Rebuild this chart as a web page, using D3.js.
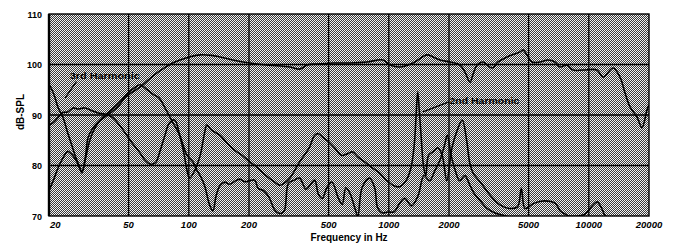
<!DOCTYPE html>
<html lang="en">
<head>
  <meta charset="UTF-8" />
  <title>Frequency response with harmonics</title>
  <script src="https://d3js.org/d3.v7.min.js"></script>
  <style>
    body { margin: 0; background: #fff; font-family: "Liberation Sans", Arial, sans-serif; }
    .curve { fill: none; stroke: #000; stroke-width: 1.6px; stroke-linejoin: round; }
    .grid line { stroke: #000; stroke-width: 1.3px; }
    .tick-y { font-size: 9px; font-weight: bold; }
    .tick-x { font-size: 9.5px; font-weight: bold; font-style: italic; }
    .title { font-size: 10px; font-weight: bold; }
    .note { font-size: 9px; font-weight: bold; }
  </style>
</head>
<body>
<svg id="chart" width="673" height="243"></svg>
<script>
// values: [frequency in Hz, dB-SPL]
const fundamental = [
  [20,75],[21,77],[22.2,79.5],[23.5,81.5],[24.8,82.8],[26,82.2],[27.5,80.8],[29.2,78.7],
  [30.5,82],[31.3,85.4],[33,87.3],[35.2,88.6],[38,89.6],[41.3,90.6],[45,92],[48,93.5],
  [52,94.5],[57,95.5],[63,97],[69,98.3],[76,99.4],[83,100.3],[92,101],[101,101.5],
  [114,101.9],[130,101.8],[143,101.5],[166,100.9],[202,100.3],[246,99.9],[321,99.5],
  [360,99.1],[390,99.9],[438,100.1],[526,100.3],[640,100.3],[778,100.5],[935,100.9],
  [1014,99.9],[1138,99.5],[1321,100.3],[1552,101.9],[1663,101.5],[1803,100.9],[2024,100.5],
  [2270,99.9],[2404,98.5],[2547,96.5],[2636,98],[2761,99.9],[2958,100.5],[3281,99.3],
  [3516,100.5],[3900,101.5],[4530,102.5],[4688,102.9],[4910,101.9],[5200,100.5],[5700,100.5],
  [6250,100.9],[6776,100.5],[7180,99.5],[7780,99.9],[8340,98.9],[9360,98.9],[10990,98.9],
  [11780,97.5],[13220,99.3],[14320,97.5],[15170,94.4],[16070,91.6],[17420,89.6],[18450,87.5],
  [19540,91],[20000,92]
];

const secondHarmonic = [
  [20,88],[21,88.5],[22.2,89.5],[23.5,90.5],[24.8,90.6],[26.4,91.4],[28,91.2],[30.2,91.4],
  [33,90.8],[35.2,90.4],[38,90.2],[41.3,89.6],[45,88],[48,86.5],[52,84.5],[57,82.5],
  [60,81.2],[64,80.3],[68,80.5],[72,83],[76,86],[80,88.4],[85,89],[90,86],[95,82],
  [98,79],[101,77.5],[107,79],[114,82],[120,86.5],[123,88],[130,87],[143,86],[155,84.5],
  [170,83],[185,82],[202,80.7],[214,80],[240,78.2],[269,76.7],[285,76.1],[300,76.5],
  [320,77.5],[358,80.7],[400,83.5],[426,86],[445,86.3],[470,85.5],[500,84.7],[536,83.5],
  [580,82],[620,82.3],[660,82.7],[700,81.7],[757,80.7],[830,79.5],[900,78.5],[960,77.3],
  [1060,76],[1133,75.8],[1220,77],[1290,79.5],[1340,84],[1370,90],[1395,94.6],[1420,91],
  [1450,86],[1490,80],[1530,78],[1580,82],[1660,82.7],[1760,83.5],[1850,82],[1950,77],
  [2070,83.5],[2200,87],[2330,89],[2450,85],[2540,80.5],[2640,78.5],[2760,77.5],[2960,76],
  [3200,74.2],[3600,72.2],[4000,71.5],[4400,71.8],[4600,75.5],[4800,71.5],[5300,72.5],
  [6000,73],[6800,72.5],[7200,71],[7600,70.4],[8000,70],[9500,70.3],[10400,72],
  [11000,72.8],[11600,71.5],[12000,70.2],[12500,69.5]
];

const thirdHarmonic = [
  [20,96],[20.7,95],[21.4,93.5],[22.2,91.5],[23.5,89.5],[24.8,86.5],[26,84],[27,82],
  [28.6,79.5],[29.2,78.5],[30.5,81.5],[32,85],[34,87.5],[37,89.5],[41,91],[45,92.5],
  [50,94.5],[54,95.5],[57,96],[62,95],[67,94],[71,93.4],[77,91],[83,88.6],[90,86],
  [98,82],[105,80.7],[110,79],[114,78],[120,76],[127,72.2],[132,71],[137,74],[143,76],
  [151,76.7],[160,76.3],[172,77],[180,77.3],[190,76.8],[202,77],[214,77.1],[222,75.5],
  [237,75],[252,73.7],[269,71.2],[285,70.5],[300,71],[315,76.5],[337,77.1],[358,77.5],
  [385,75.3],[402,76],[426,77.1],[445,74.3],[465,73.5],[490,75.6],[520,76.7],[560,73.5],
  [585,72.3],[610,75.6],[640,74.5],[675,71.7],[700,70],[735,75.6],[800,77.5],[850,75.6],
  [880,71.6],[930,70.6],[990,70.8],[1060,70.8],[1133,72.5],[1200,73.5],[1300,72],
  [1400,74],[1500,78],[1600,77],[1700,79],[1800,81],[1900,84],[1960,86],[2050,82],
  [2150,79],[2260,77],[2400,78],[2550,76],[2700,74.2],[2900,72.8],[3100,71.5],[3400,70.6],
  [3700,70.2],[4200,69.5]
];

const xTicks = [20, 50, 100, 200, 500, 1000, 2000, 5000, 10000, 20000];
const yTicks = [70, 80, 90, 100, 110];
const notes = [
  { text: "3rd Harmonic", f: 25.4, db: 97.1, from: [27.4, 96.6], to: [24.1, 93.4] },
  { text: "2nd Harmonic", f: 2010, db: 92.2, from: [2000, 92.6], to: [1480, 90.6] }
];

const svg = d3.select("#chart");
const margin = { top: 14, right: 24, bottom: 27, left: 49 };
const width = 673 - margin.left - margin.right,
      height = 243 - margin.top - margin.bottom;

const x = d3.scaleLog().domain([20, 20000]).range([0, width]);
const y = d3.scaleLinear().domain([70, 110]).range([height, 0]);

// halftone background of the scanned plot
const defs = svg.append("defs");
const pat = defs.append("pattern")
  .attr("id", "dots").attr("patternUnits", "userSpaceOnUse")
  .attr("width", 2).attr("height", 2);
pat.append("rect").attr("width", 2).attr("height", 2).attr("fill", "#f2f2f2");
pat.append("rect").attr("x", 0).attr("y", 0).attr("width", 1).attr("height", 1).attr("fill", "#3a3a3a");
pat.append("rect").attr("x", 1).attr("y", 1).attr("width", 1).attr("height", 1).attr("fill", "#3a3a3a");

defs.append("clipPath").attr("id", "plotClip")
  .append("rect").attr("width", width).attr("height", height);

const g = svg.append("g").attr("transform", `translate(${margin.left},${margin.top})`);

g.append("rect").attr("width", width).attr("height", height).attr("fill", "url(#dots)");

// grid
const grid = g.append("g").attr("class", "grid");
grid.selectAll(".vx").data(xTicks.slice(1, -1)).enter().append("line")
  .attr("x1", d => x(d)).attr("x2", d => x(d)).attr("y1", 0).attr("y2", height);
grid.selectAll(".hy").data(yTicks.slice(1, -1)).enter().append("line")
  .attr("x1", 0).attr("x2", width).attr("y1", d => y(d)).attr("y2", d => y(d));

// curves
const line = d3.line()
  .x(d => x(d[0]))
  .y(d => y(d[1]))
  .curve(d3.curveCatmullRom.alpha(0.5));

const curves = g.append("g").attr("clip-path", "url(#plotClip)");
[fundamental, secondHarmonic, thirdHarmonic].forEach(s => {
  curves.append("path").datum(s).attr("class", "curve").attr("d", line);
});

// frame
g.append("rect").attr("width", width).attr("height", height)
  .attr("fill", "none").attr("stroke", "#000").attr("stroke-width", 1.4);
g.append("line").attr("x1", 0).attr("x2", 0).attr("y1", 0).attr("y2", height)
  .attr("stroke", "#000").attr("stroke-width", 2.4);

// annotations
notes.forEach(n => {
  g.append("line")
    .attr("x1", x(n.from[0])).attr("y1", y(n.from[1]))
    .attr("x2", x(n.to[0])).attr("y2", y(n.to[1]))
    .attr("stroke", "#000").attr("stroke-width", 1.3);
  g.append("text").attr("class", "note")
    .attr("x", x(n.f)).attr("y", y(n.db))
    .attr("textLength", 70).attr("lengthAdjust", "spacingAndGlyphs")
    .text(n.text);
});

// y tick labels
g.selectAll(".tick-y").data(yTicks).enter().append("text")
  .attr("class", "tick-y")
  .attr("x", -7).attr("y", d => y(d) + 3.5)
  .attr("text-anchor", "end")
  .text(d => d);

// x tick labels
g.selectAll(".tick-x").data(xTicks).enter().append("text")
  .attr("class", "tick-x")
  .attr("x", (d, i) => i === 0 ? x(d) + 1 : x(d))
  .attr("y", height + 12)
  .attr("text-anchor", (d, i) => i === 0 ? "start" : "middle")
  .text(d => d);

g.append("text").attr("class", "title")
  .attr("x", 300).attr("y", height + 24.5)
  .attr("text-anchor", "middle")
  .text("Frequency in Hz");

svg.append("text").attr("class", "title")
  .attr("transform", "translate(24,112) rotate(-90)")
  .attr("text-anchor", "middle")
  .text("dB-SPL");
</script>
</body>
</html>
